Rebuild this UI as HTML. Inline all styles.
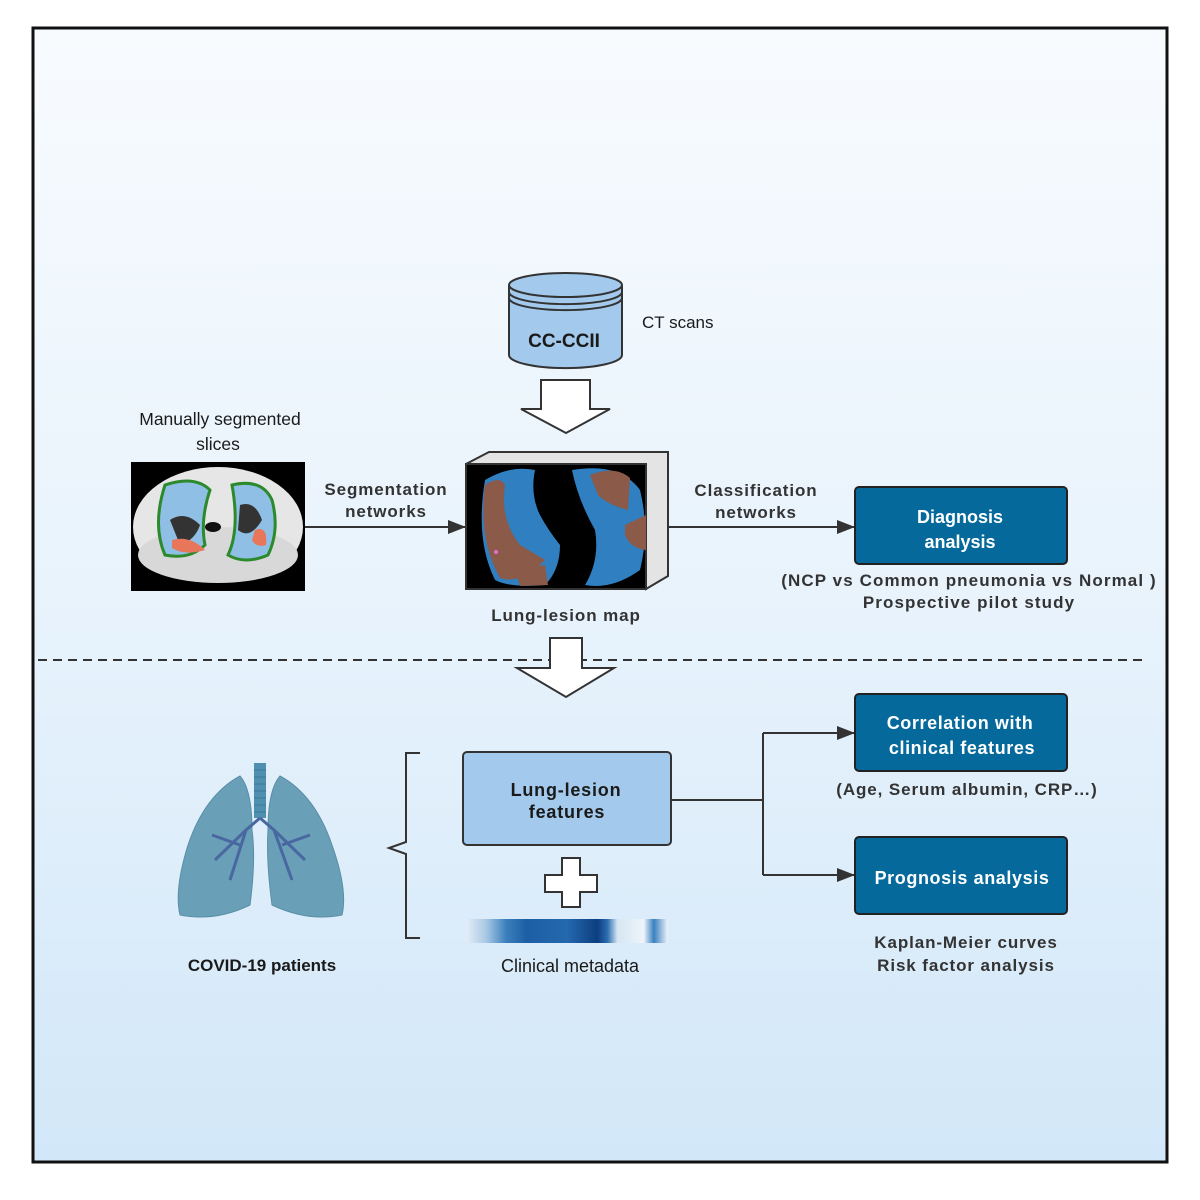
<!DOCTYPE html>
<html><head><meta charset="utf-8"><style>
html,body{margin:0;padding:0;background:#fff}
svg{display:block}
text{font-family:"Liberation Sans",sans-serif;font-weight:bold;fill:#1a1a1a}
.ls{letter-spacing:0.9px;fill:#333}
.n{font-weight:normal}
</style></head><body>
<svg width="1200" height="1200" viewBox="0 0 1200 1200" xmlns="http://www.w3.org/2000/svg">
<defs>
<linearGradient id="bg" x1="0" y1="0" x2="0" y2="1">
<stop offset="0" stop-color="#f8fbfe"/><stop offset="0.5" stop-color="#e8f3fc"/><stop offset="1" stop-color="#d2e7f8"/>
</linearGradient>
<linearGradient id="hm" x1="0" y1="0" x2="1" y2="0">
<stop offset="0" stop-color="#e4eef8"/><stop offset="0.1" stop-color="#a8c8e4"/><stop offset="0.2" stop-color="#3a7fbc"/>
<stop offset="0.3" stop-color="#1d5fa6"/><stop offset="0.5" stop-color="#2468ad"/><stop offset="0.65" stop-color="#0c3f80"/>
<stop offset="0.7" stop-color="#2b6cb0"/><stop offset="0.75" stop-color="#d6e6f3"/><stop offset="0.88" stop-color="#eef4fa"/>
<stop offset="0.93" stop-color="#3a80c0"/><stop offset="1" stop-color="#eef4fa"/>
</linearGradient>
<marker id="ar" markerWidth="18" markerHeight="14" refX="18" refY="7" orient="auto" markerUnits="userSpaceOnUse" viewBox="0 0 18 14">
<path d="M0,0 L18,7 L0,14 z" fill="#333"/></marker>
</defs>
<rect x="33" y="28" width="1134" height="1134" fill="url(#bg)" stroke="#111" stroke-width="3"/>

<!-- cylinder -->
<path d="M509,285 L509,355 A56,13 0 0 0 622,355 L622,285" fill="#a3c9ec" stroke="#333" stroke-width="2"/>
<ellipse cx="565.5" cy="285" rx="56.5" ry="12" fill="#a3c9ec" stroke="#333" stroke-width="2"/>
<path d="M509,292 A56,12 0 0 0 622,292 M509,298 A56,12 0 0 0 622,298" fill="none" stroke="#333" stroke-width="2"/>
<text x="564" y="347" font-size="19" text-anchor="middle">CC-CCII</text>
<text x="642" y="328" font-size="17" class="n">CT scans</text>

<path d="M541,380 L590,380 L590,409 L610,409 L566,433 L521,409 L541,409 Z" fill="#fff" stroke="#333" stroke-width="2"/>

<!-- CT slice -->
<rect x="131" y="462" width="174" height="129" fill="#000"/>
<ellipse cx="218" cy="527" rx="85" ry="60" fill="#e6e6e6"/>
<rect x="131" y="565" width="174" height="26" fill="#000"/>
<ellipse cx="218" cy="555" rx="80" ry="28" fill="#d8d8d8"/>
<path d="M165,485 Q195,475 210,490 Q200,520 205,545 Q190,560 165,555 Q152,525 165,485Z" fill="#8fbfe4" stroke="#2c8a2c" stroke-width="3"/>
<path d="M232,485 Q262,478 272,500 Q280,530 268,555 Q245,565 228,555 Q240,530 232,485Z" fill="#8fbfe4" stroke="#2c8a2c" stroke-width="3"/>
<path d="M170,520 Q185,510 200,525 Q195,540 180,545Z" fill="#333"/>
<path d="M240,505 Q255,500 262,520 Q250,540 238,530Z" fill="#333"/>
<path d="M172,540 Q190,535 205,550 Q185,556 172,548Z" fill="#e8765a"/>
<path d="M255,530 Q268,525 266,545 Q256,548 252,540Z" fill="#e8765a"/>
<ellipse cx="213" cy="527" rx="8" ry="5" fill="#111"/>

<!-- map box -->
<path d="M466,464 L489,452 L668,452 L668,576 L646,589 L646,464 Z" fill="#e4e4e4" stroke="#333" stroke-width="2"/>
<rect x="466" y="464" width="180" height="125" fill="#000" stroke="#333" stroke-width="2"/>
<path d="M485,480 Q510,465 535,470 Q530,495 540,515 Q548,530 560,545 Q560,570 545,585 Q510,588 495,580 Q475,540 485,480Z" fill="#2f7fc1"/>
<path d="M485,485 Q500,475 505,485 Q500,520 520,545 L545,560 Q520,585 500,578 Q478,540 485,485Z" fill="#8c5a48"/>
<path d="M515,570 L545,565 L548,585 L520,586Z" fill="#8c5a48"/>
<path d="M572,470 Q620,462 640,490 Q650,530 640,570 Q612,590 585,585 Q600,560 595,530 Q578,500 572,470Z" fill="#2f7fc1"/>
<path d="M590,475 Q615,465 630,478 L628,510 Q608,505 598,495Z M625,525 L646,515 L646,550 Q630,548 625,535Z" fill="#8c5a48"/>
<circle cx="496" cy="552" r="2" fill="#e070d0"/>

<line x1="305" y1="527" x2="466" y2="527" stroke="#333" stroke-width="2" marker-end="url(#ar)"/>
<text x="386" y="495" font-size="17" text-anchor="middle" class="ls">Segmentation</text>
<text x="386" y="517" font-size="17" text-anchor="middle" class="ls">networks</text>
<text x="220" y="425" font-size="17.5" text-anchor="middle" class="n">Manually segmented</text>
<text x="218" y="450" font-size="17.5" text-anchor="middle" class="n">slices</text>
<text x="566" y="621" font-size="17" text-anchor="middle" class="ls">Lung-lesion map</text>

<line x1="668" y1="527" x2="855" y2="527" stroke="#333" stroke-width="2" marker-end="url(#ar)"/>
<text x="756" y="496" font-size="17" text-anchor="middle" class="ls">Classification</text>
<text x="756" y="518" font-size="17" text-anchor="middle" class="ls">networks</text>

<rect x="855" y="487" width="212" height="77" rx="4" fill="#05699c" stroke="#222" stroke-width="2"/>
<text x="960" y="523" font-size="18" text-anchor="middle" style="fill:#fff">Diagnosis</text>
<text x="960" y="548" font-size="18" text-anchor="middle" style="fill:#fff">analysis</text>
<text x="969" y="586" font-size="17" text-anchor="middle" class="ls" style="letter-spacing:1.1px">(NCP vs Common pneumonia vs Normal )</text>
<text x="969" y="608" font-size="17" text-anchor="middle" class="ls" style="letter-spacing:1.1px">Prospective pilot study</text>

<line x1="38" y1="660" x2="1142" y2="660" stroke="#333" stroke-width="2" stroke-dasharray="9,6"/>
<path d="M550,638 L582,638 L582,668 L614,668 L566,697 L517,668 L550,668 Z" fill="#fff" stroke="#333" stroke-width="2"/>

<!-- lungs -->
<g>
<rect x="254" y="763" width="12" height="55" fill="#4f8fb0"/>
<path d="M254,770 h12 M254,777 h12 M254,784 h12 M254,791 h12 M254,798 h12 M254,805 h12 M254,812 h12" stroke="#3e7896" stroke-width="1"/>
<path d="M240,776 Q205,795 188,845 Q174,890 180,915 Q215,922 250,905 Q256,860 252,830 Q252,790 240,776 Z" fill="#6a9fb8" stroke="#5a8fa8"/>
<path d="M280,776 Q315,795 332,845 Q348,890 342,915 Q308,922 272,905 Q266,860 268,830 Q268,790 280,776 Z" fill="#6a9fb8" stroke="#5a8fa8"/>
<path d="M260,818 L246,830 L230,880 M246,830 L215,860 M260,818 L274,830 L292,880 M274,830 L305,860 M240,845 L212,835 M282,845 L310,835" stroke="#4a68a0" stroke-width="3" fill="none"/>
</g>
<text x="262" y="971" font-size="17" text-anchor="middle">COVID-19 patients</text>

<path d="M420,753 L406,753 L406,842 L389,848 L406,854 L406,938 L420,938" fill="none" stroke="#333" stroke-width="2"/>

<rect x="463" y="752" width="208" height="93" rx="4" fill="#a3c9ec" stroke="#333" stroke-width="2"/>
<text x="566" y="796" font-size="18" text-anchor="middle" style="letter-spacing:0.8px">Lung-lesion</text>
<text x="567" y="818" font-size="18" text-anchor="middle" style="letter-spacing:0.8px">features</text>

<path d="M562,858 L580,858 L580,875 L597,875 L597,892 L580,892 L580,907 L562,907 L562,892 L545,892 L545,875 L562,875 Z" fill="#fff" stroke="#333" stroke-width="2"/>
<rect x="466" y="919" width="202" height="24" fill="url(#hm)"/>
<text x="570" y="972" font-size="18" text-anchor="middle" class="n">Clinical metadata</text>

<path d="M671,800 L763,800 M763,733 L763,875" stroke="#333" stroke-width="2" fill="none"/>
<line x1="763" y1="733" x2="855" y2="733" stroke="#333" stroke-width="2" marker-end="url(#ar)"/>
<line x1="763" y1="875" x2="855" y2="875" stroke="#333" stroke-width="2" marker-end="url(#ar)"/>

<rect x="855" y="694" width="212" height="77" rx="4" fill="#05699c" stroke="#222" stroke-width="2"/>
<text x="960" y="729" font-size="18" text-anchor="middle" style="fill:#fff;letter-spacing:0.6px">Correlation with</text>
<text x="962" y="754" font-size="18" text-anchor="middle" style="fill:#fff;letter-spacing:0.6px">clinical features</text>
<text x="967" y="795" font-size="17" text-anchor="middle" class="ls">(Age, Serum albumin, CRP…)</text>

<rect x="855" y="837" width="212" height="77" rx="4" fill="#05699c" stroke="#222" stroke-width="2"/>
<text x="962" y="884" font-size="18" text-anchor="middle" style="fill:#fff;letter-spacing:0.6px">Prognosis analysis</text>
<text x="966" y="948" font-size="17" text-anchor="middle" class="ls">Kaplan-Meier curves</text>
<text x="966" y="971" font-size="17" text-anchor="middle" class="ls">Risk factor analysis</text>
</svg>
</body></html>
